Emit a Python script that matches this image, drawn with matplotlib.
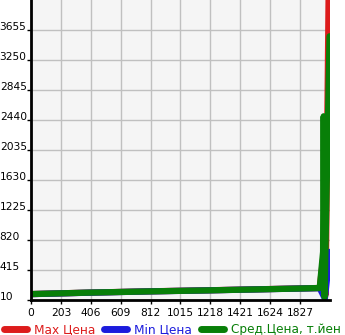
import matplotlib
matplotlib.use("Agg")
import matplotlib.pyplot as plt

# values
x_ticks = [0, 203, 406, 609, 812, 1015, 1218, 1421, 1624, 1827]
y_ticks = [10, 415, 820, 1225, 1630, 2035, 2440, 2845, 3250, 3655]

max_x = [0, 400, 800, 1200, 1600, 1960, 1985, 2000, 2026]
max_y = [90, 110, 127, 141, 157, 172, 600, 80, 5200]

min_x = [0, 400, 800, 1200, 1600, 1960, 1995, 2030]
min_y = [89, 109, 126, 140, 156, 170, 30, 660]

avg_x = [0, 200, 400, 600, 800, 1000, 1200, 1400, 1600, 1800, 1960, 1983, 1987, 1993, 2027]
avg_y = [90, 100, 110, 118, 126, 133, 140, 148, 156, 164, 172, 660, 2490, 50, 3570]

red = '#dd1c1c'
blue = '#1c1cdd'
green = '#087f08'

fig = plt.figure(figsize=(3.45, 3.35), dpi=100)
ax = fig.add_axes([31/345, 35/335, 299/345, 300/335])
ax.set_facecolor('#f5f5f5')

lw = 4.5
ax.plot(max_x, max_y, color=red, lw=lw, solid_capstyle='round', solid_joinstyle='round', label='Max Цена')
ax.plot(min_x, min_y, color=blue, lw=lw, solid_capstyle='round', solid_joinstyle='round', label='Min Цена')
ax.plot(avg_x, avg_y, color=green, lw=lw, solid_capstyle='round', solid_joinstyle='round', label='Сред.Цена, т.йен')

ax.set_xlim(0, 2030)
ax.set_ylim(10, 4060)
ax.set_xticks(x_ticks)
ax.set_yticks(y_ticks)
ax.set_xticklabels([str(v) for v in x_ticks], fontsize=7.7)
ax.set_yticklabels([str(v) for v in y_ticks], fontsize=7.7)

ax.grid(True, color='#c0c0c0', lw=1)
ax.set_axisbelow(True)
for s in ['top', 'right']:
    ax.spines[s].set_visible(False)
for s in ['left', 'bottom']:
    ax.spines[s].set_linewidth(2)
    ax.spines[s].set_color('black')

ax.tick_params(axis='y', length=3, width=1, pad=19.5)
ax.tick_params(axis='x', length=3, width=1, pad=3)
for lab in ax.get_yticklabels():
    lab.set_horizontalalignment('left')
    lab.set_verticalalignment('baseline')

leg = fig.legend(loc='lower center', bbox_to_anchor=(0.5, -0.035), ncol=3, frameon=False,
                 fontsize=8.7, handlelength=1.9, handletextpad=0.6, columnspacing=0.7,
                 labelcolor='linecolor')
for h in leg.get_lines():
    h.set_linewidth(5)

fig.savefig('out.png', dpi=100)
